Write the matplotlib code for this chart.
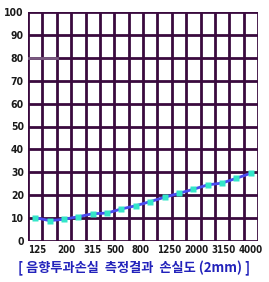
import numpy as np
import matplotlib.pyplot as plt
from matplotlib import font_manager

# 1/3 octave bands, 125 ~ 4000 Hz
freqs = [125, 160, 200, 250, 315, 400, 500, 630, 800, 1000, 1250, 1600, 2000, 2500, 3150, 4000]
loss = [10.2, 8.9, 9.5, 10.6, 11.9, 12.2, 14.0, 15.4, 17.2, 19.1, 20.8, 22.6, 24.5, 25.3, 27.4, 29.6]
tick_labels = ['125', '200', '315', '500', '800', '1250', '2000', '3150', '4000']
title = '[ 음향투과손실  측정결과  손실도 (2mm) ]'

grid_col = '#3a0a3e'

# look for an upright condensed / narrow face
cond = [f.fname for f in font_manager.fontManager.ttflist
        if ('ondensed' in f.fname or 'Narrow' in f.fname)
        and 'Oblique' not in f.fname and 'Italic' not in f.fname]
cond = sorted(cond, key=lambda p: ('Bold' not in p, p))

fig = plt.figure(figsize=(2.69, 2.82), dpi=100)
ax = fig.add_axes([28/269, 41/282, 230/269, 229/282])

x = np.arange(len(freqs))
ax.plot(x, loss, color='#4a4cf0', lw=2, zorder=3)
ax.plot(x, loss, 's', color='#33e6c8', ms=4.5, mec='none', zorder=4)

ax.set_xlim(-0.5, len(freqs) - 0.5)
ax.set_ylim(0, 100)

# grid
for b in np.arange(-0.5, len(freqs), 1):
    ax.axvline(b, color=grid_col, lw=2, zorder=1)
for v in range(0, 101, 10):
    ax.axhline(v, color=grid_col, lw=2, zorder=1)
ax.plot([-0.5, 1.5], [80, 80], color='#7a5a80', lw=2, zorder=2)

for s in ax.spines.values():
    s.set_visible(False)

ax.set_yticks(range(0, 101, 10))
ax.set_yticklabels([str(v) for v in range(0, 101, 10)])
tick_pos = [0.15, 2.15, 4.0, 5.6, 7.3, 9.3, 11.2, 13.1, 15.0]
ax.set_xticks(tick_pos)
ax.set_xticklabels(tick_labels)
ax.tick_params(length=0, pad=3)
for lab in ax.get_xticklabels():
    if cond:
        lab.set_fontproperties(font_manager.FontProperties(fname=cond[0], size=7))
    else:
        lab.set_fontsize(6.5)
    lab.set_color('#1a1a1a')
for lab in ax.get_yticklabels():
    if cond:
        lab.set_fontproperties(font_manager.FontProperties(fname=cond[0], size=7.5))
    else:
        lab.set_fontsize(7)
    lab.set_color('#1a1a1a')

fig.text(0.5, 14/282, title, ha='center', va='center', color='#2222bb',
         fontsize=9.5, fontweight='bold', family=['Noto Sans CJK KR', 'DejaVu Sans'])

fig.savefig('out.png', dpi=100)
